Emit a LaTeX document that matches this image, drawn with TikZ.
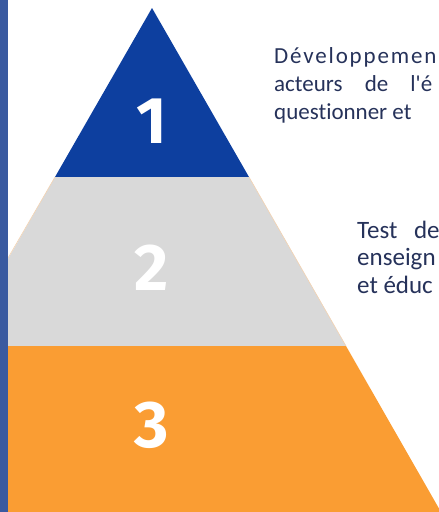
\documentclass[tikz,border=0pt]{standalone}
\usepackage{fontspec}
\newfontfamily\txtfont{Carlito}[Ligatures=NoCommon]
\newfontfamily\numfont{Fira Sans}
\definecolor{tblue}{HTML}{0D3F9F}
\definecolor{tgray}{HTML}{D9D9D9}
\definecolor{torange}{HTML}{FA9D33}
\definecolor{tbar}{HTML}{3A5AA0}
\definecolor{ttext}{HTML}{26325A}
\definecolor{tedge}{HTML}{F3D2B0}
\tikzset{
  numstyle/.style={text=white, font=\numfont\bfseries\fontsize{66}{66}\selectfont, inner sep=0pt},
  txt/.style={text=ttext, font=\txtfont\fontsize{23}{28}\selectfont, anchor=base west, inner sep=0pt},
  txtbig/.style={text=ttext, font=\txtfont\fontsize{25}{28}\selectfont, anchor=base west, inner sep=0pt},
}
\begin{document}
\begin{tikzpicture}[x=1pt,y=-1pt]
\useasboundingbox (0,0) rectangle (439,512);
\begin{scope}
\clip (0,0) rectangle (439,512);
\fill[tblue] (152,8) -- (249,177) -- (55,177) -- cycle;
\fill[tgray] (55,177) -- (249,177) -- (346,346) -- (-42,346) -- cycle;
\fill[torange] (-42,346) -- (346,346) -- (441,512) -- (-137,512) -- cycle;
\draw[tedge, line width=0.6pt] (249,177) -- (346,346);
\draw[tedge, line width=0.6pt] (55,177) -- (8,258);
\node[numstyle] (n1) at (152,121) {1};
\node[numstyle] (n2) at (152,268) {2};
\node[numstyle] (n3) at (152,425) {3};
\node[txt] (a1) at (274,63) {\addfontfeature{LetterSpace=8}Développemen};
\node[txt] (a2) at (274,91) {acteurs\hspace{17pt} de\hspace{17pt} l'é};
\node[txt] (a3) at (274,119) {questionner et};
\node[txtbig] (b1) at (357,238) {Test\hspace{11pt} de};
\node[txtbig] (b2) at (357,265) {enseign};
\node[txtbig] (b3) at (357,293) {et éduc};
\end{scope}
\fill[tbar] (0,0) rectangle (8,512);
\end{tikzpicture}
\end{document}
